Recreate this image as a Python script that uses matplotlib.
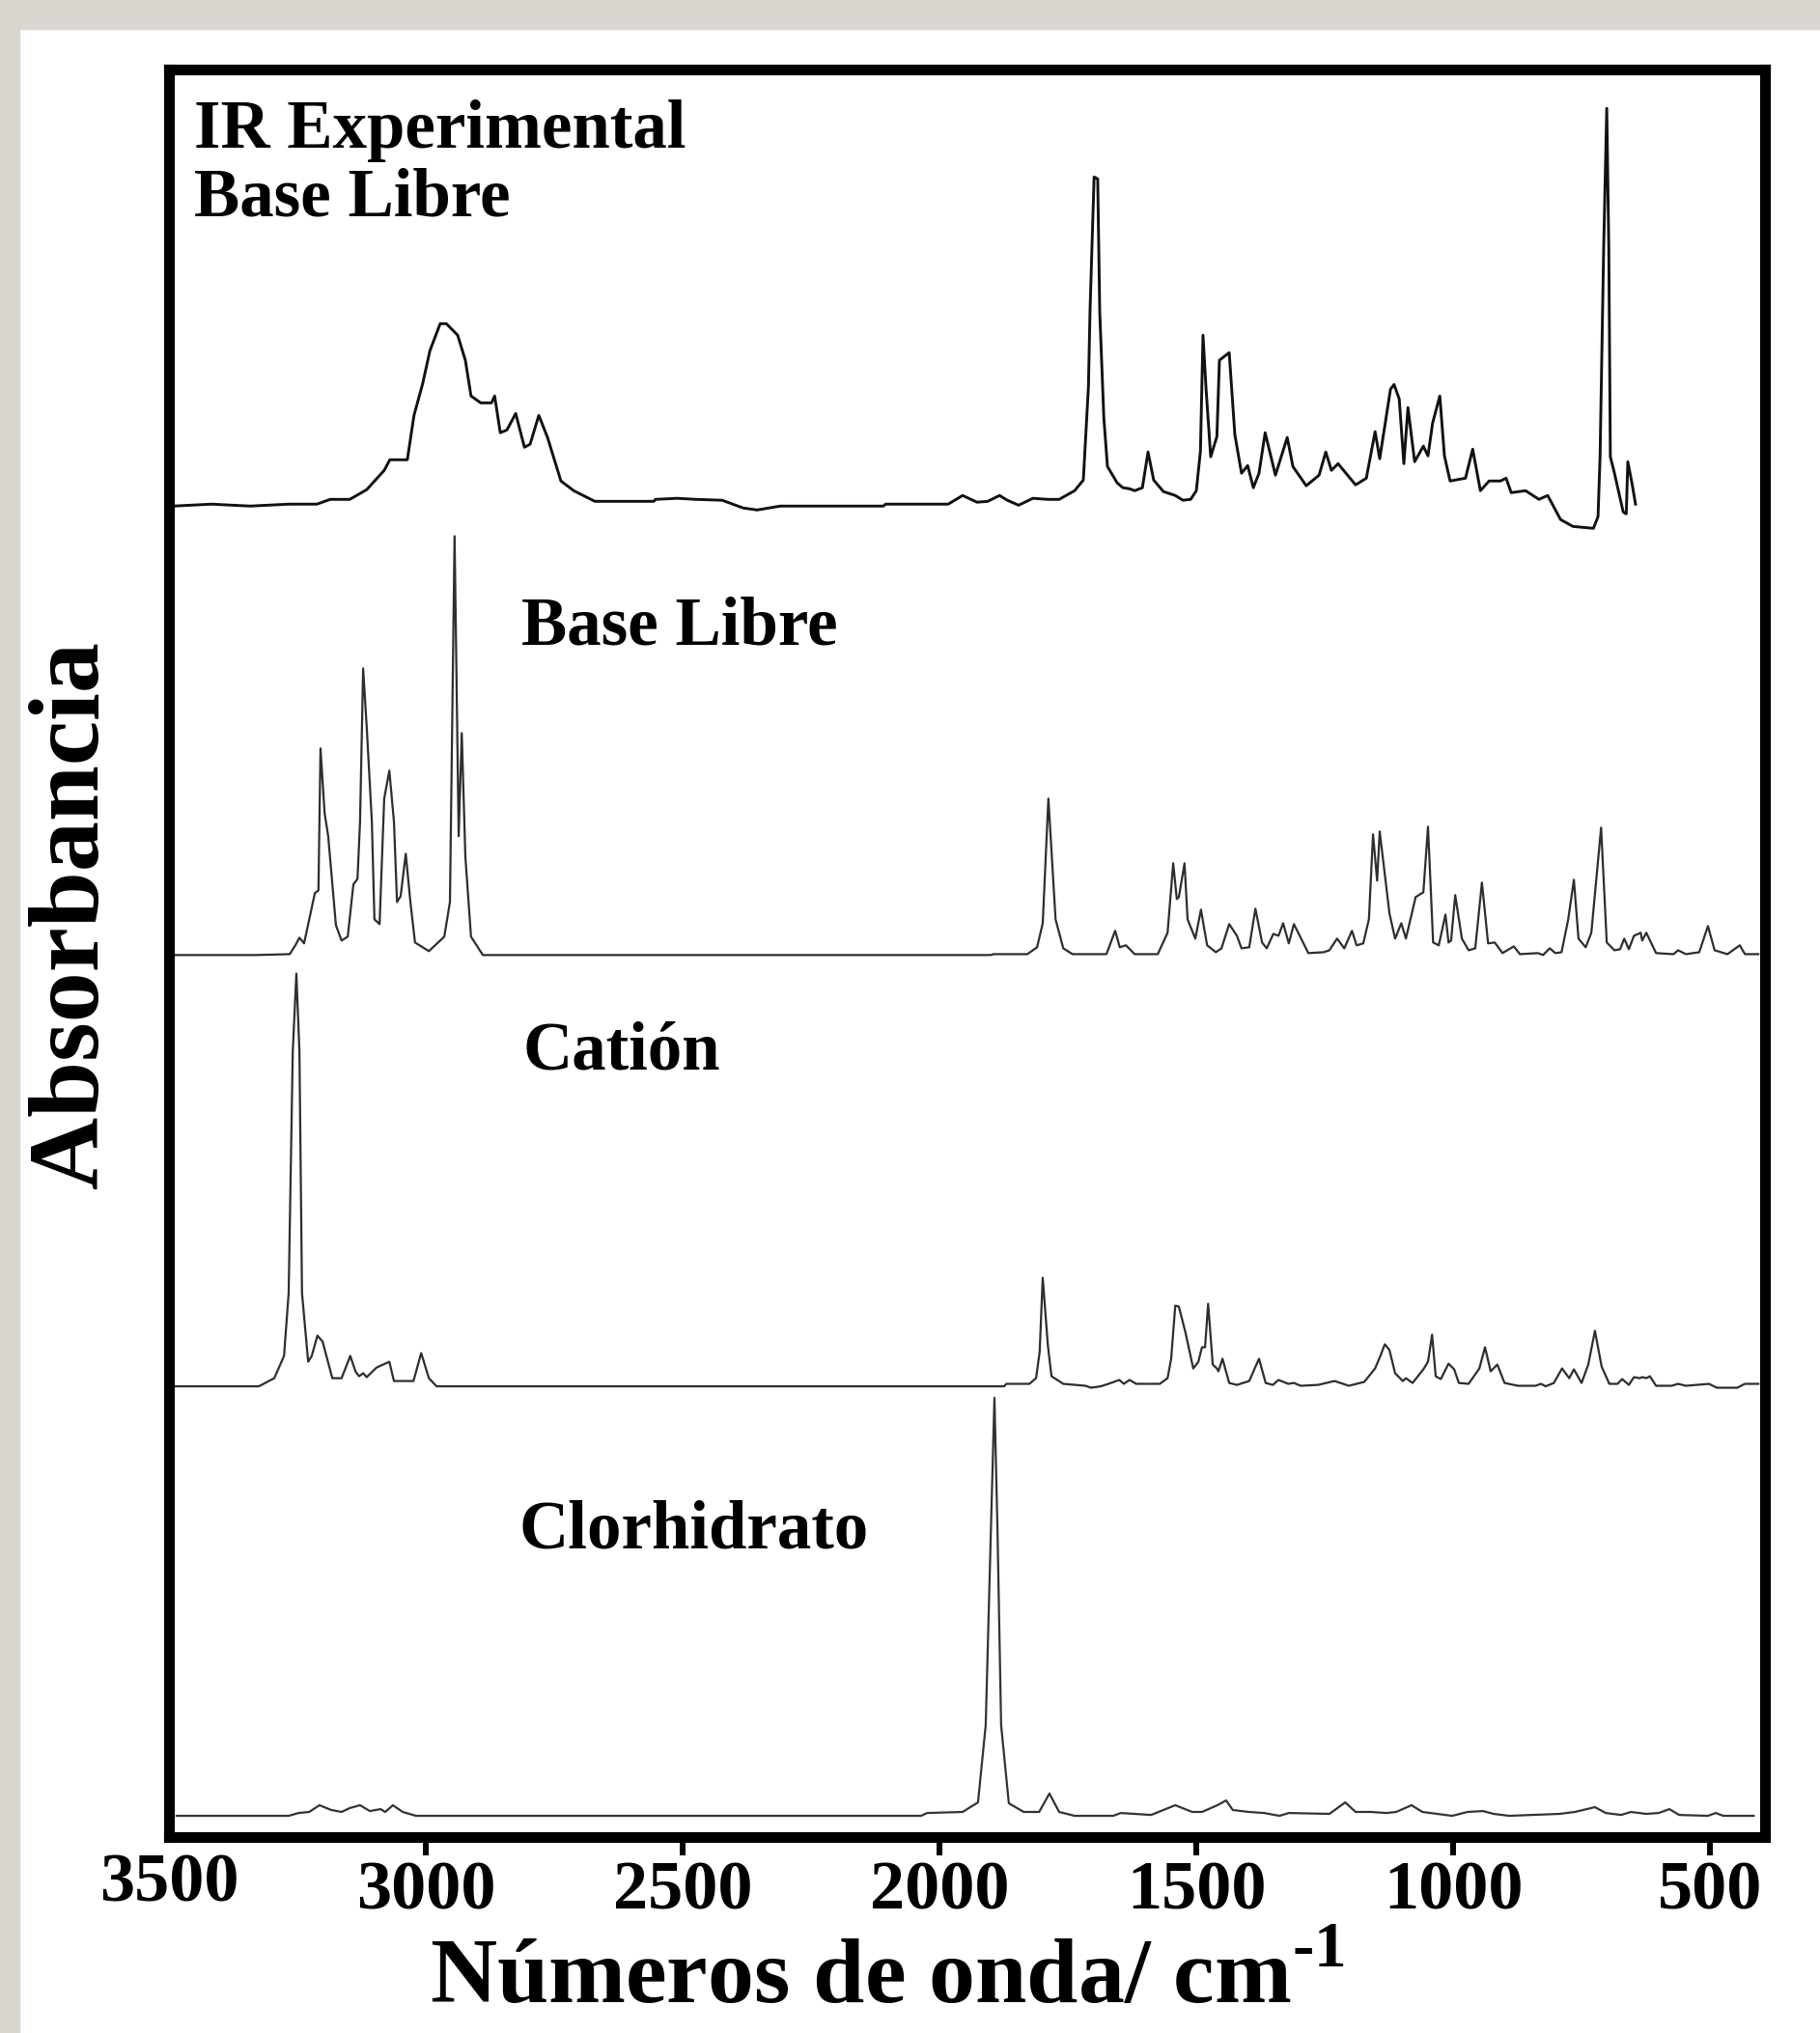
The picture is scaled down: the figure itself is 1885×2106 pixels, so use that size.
import numpy as np
import matplotlib.pyplot as plt
from matplotlib.patches import Rectangle


# IR experimental, base libre (wavenumber cm-1, relative absorbance)
wn_exp = [3492, 3417, 3342, 3267, 3212, 3186, 3148, 3115, 3081, 3070, 3036, 3023,
          3006, 2992, 2972, 2960, 2938, 2923, 2912, 2893, 2872, 2866, 2855, 2842,
          2825, 2808, 2797, 2780, 2763, 2737, 2712, 2671, 2556, 2553, 2511, 2474,
          2423, 2382, 2355, 2310, 2109, 2105, 1983, 1955, 1927, 1906, 1883, 1868,
          1846, 1818, 1789, 1767, 1737, 1720, 1710, 1707, 1699, 1692, 1688, 1680,
          1673, 1654, 1643, 1630, 1620, 1605, 1594, 1583, 1564, 1541, 1526, 1511,
          1500, 1492, 1487, 1481, 1472, 1460, 1455, 1436, 1425, 1412, 1400, 1389,
          1378, 1366, 1346, 1323, 1312, 1286, 1261, 1248, 1237, 1224, 1190, 1169,
          1152, 1143, 1122, 1115, 1105, 1096, 1088, 1075, 1058, 1049, 1040, 1026,
          1017, 1006, 976, 962, 947, 930, 908, 897, 887, 859, 833, 816, 791, 767,
          727, 718, 714, 707, 701, 697, 694, 686, 669, 663, 660, 652, 645]
abs_exp = [0, 0.11, 0, 0.11, 0.11, 0.38, 0.38, 0.93, 2.02, 2.62, 2.62, 5.13,
           6.94, 8.79, 10.32, 10.32, 9.67, 8.25, 6.23, 5.84, 5.84, 6.23, 4.15, 4.31,
           5.24, 3.33, 3.50, 5.13, 3.88, 1.42, 0.87, 0.27, 0.27, 0.38, 0.44, 0.38,
           0.33, -0.11, -0.22, 0, 0, 0.11, 0.11, 0.60, 0.22, 0.27, 0.60, 0.33,
           0.05, 0.44, 0.38, 0.38, 0.87, 1.47, 6.77, 10.98, 18.62, 18.51, 10.98, 4.97,
           2.24, 1.31, 1.04, 0.98, 0.87, 1.04, 3.06, 1.47, 0.82, 0.60, 0.33, 0.38,
           0.87, 3.11, 9.67, 6.61, 2.79, 3.93, 8.25, 8.68, 4.04, 1.86, 2.29, 1.04,
           1.86, 4.15, 1.75, 3.88, 2.24, 1.15, 1.75, 3.06, 2.02, 2.40, 1.20, 1.58,
           4.21, 2.68, 6.61, 6.88, 6.06, 2.40, 5.57, 2.51, 3.39, 2.84, 4.70, 6.23,
           2.84, 1.42, 1.58, 3.22, 0.87, 1.42, 1.42, 1.58, 0.76, 0.87, 0.38, 0.60, -0.76, -1.15,
           -1.26, -0.60, 2.79, 14.58, 22.50, 14.58, 2.79, 1.86, -0.33, -0.44, 2.51, 1.31, 0.11]

# calculado, base libre
wn_base = [3491, 3333, 3265, 3254, 3246, 3237, 3216, 3209, 3205, 3197, 3190, 3175,
           3164, 3152, 3141, 3133, 3128, 3122, 3115, 3105, 3100, 3090, 3081, 3071,
           3062, 3056, 3049, 3039, 3030, 3021, 2994, 2964, 2953, 2944, 2936, 2930,
           2923, 2912, 2889, 2784, 1949, 1900, 1895, 1829, 1810, 1799, 1788, 1774,
           1759, 1741, 1675, 1658, 1649, 1637, 1620, 1575, 1556, 1545, 1538, 1534,
           1523, 1517, 1502, 1491, 1479, 1462, 1451, 1436, 1421, 1412, 1397, 1385,
           1372, 1363, 1350, 1340, 1331, 1320, 1310, 1282, 1252, 1241, 1226, 1212,
           1197, 1188, 1175, 1164, 1156, 1148, 1143, 1124, 1113, 1101, 1092, 1073,
           1058, 1049, 1039, 1028, 1015, 1009, 1004, 996, 983, 970, 957, 944,
           932, 919, 904, 882, 870, 835, 825, 812, 801, 789, 776, 765,
           756, 742, 731, 712, 701, 686, 675, 667, 658, 648, 635, 632,
           624, 605, 571, 562, 547, 521, 504, 491, 466, 442, 432, 406]
abs_base = [0, 0, 0.05, 0.55, 0.98, 0.66, 3.50, 3.66, 11.69, 8.03, 6.72, 1.69,
            0.82, 1.04, 3.99, 4.31, 7.54, 16.22, 12.89, 7.54, 2.02, 1.75, 8.85, 10.43,
            7.54, 3.00, 3.33, 5.73, 3.00, 0.71, 0.22, 1.04, 3.00, 23.70, 6.72, 12.56,
            5.57, 1.04, 0, 0, 0, 0, 0.05, 0.05, 0.44, 1.80, 8.85, 2.02,
            0.38, 0.05, 0.05, 1.37, 0.44, 0.55, 0.05, 0.05, 1.26, 5.19, 3.17, 3.28,
            5.19, 2.02, 0.93, 2.57, 0.55, 0.16, 0.38, 1.75, 1.09, 0.38, 0.44, 2.62,
            0.71, 0.38, 1.20, 1.09, 1.80, 0.66, 1.75, 0.11, 0.16, 0.27, 0.93, 0.38,
            1.37, 0.55, 0.66, 2.02, 6.83, 4.21, 6.99, 2.35, 0.93, 1.80, 0.93, 3.28,
            3.55, 7.26, 0.71, 0.55, 2.29, 0.71, 0.82, 3.39, 0.93, 0.27, 0.38, 4.10,
            0.66, 0.71, 0.11, 0.49, 0.05, 0.11, 0, 0.38, 0.11, 0.16, 2.02, 4.26,
            0.93, 0.44, 1.26, 7.21, 0.71, 0.27, 0.33, 0.93, 0.33, 1.09, 1.26, 0.82,
            1.26, 0.11, 0.05, 0.27, 0.05, 0.16, 1.64, 0.27, 0.05, 0.55, 0.05, 0.05]

# calculado, cation
wn_cat = [3491, 3325, 3295, 3276, 3267, 3259, 3252, 3246, 3241, 3229, 3222, 3211,
          3201, 3182, 3164, 3147, 3137, 3130, 3122, 3115, 3096, 3071, 3062, 3024,
          3009, 2994, 2979, 1949, 1874, 1870, 1825, 1812, 1805, 1799, 1789, 1782,
          1759, 1716, 1705, 1686, 1671, 1650, 1641, 1630, 1617, 1571, 1556, 1549,
          1541, 1534, 1521, 1506, 1496, 1489, 1483, 1477, 1468, 1460, 1457, 1449,
          1436, 1421, 1397, 1378, 1365, 1351, 1340, 1321, 1310, 1297, 1263, 1231,
          1203, 1173, 1152, 1141, 1133, 1124, 1113, 1098, 1092, 1079, 1058, 1049,
          1041, 1034, 1024, 1009, 998, 989, 970, 949, 938, 927, 914, 900,
          874, 840, 829, 820, 804, 788, 774, 765, 750, 737, 724, 711,
          696, 680, 671, 658, 648, 637, 632, 624, 617, 605, 575, 562,
          547, 502, 487, 447, 432, 406]
abs_cat = [0, 0, 0.46, 1.72, 5.27, 18.92, 23.35, 18.92, 5.27, 1.39, 1.72, 2.87,
           2.54, 0.46, 0.46, 1.72, 0.85, 0.57, 0.74, 0.52, 1.06, 1.39, 0.30, 0.30,
           1.88, 0.46, 0, 0, 0, 0.14, 0.14, 0.46, 1.94, 6.14, 2.32, 0.57,
           0.14, 0.03, -0.08, 0, 0.14, 0.36, 0.14, 0.36, 0.14, 0.14, 0.46, 1.56,
           4.56, 4.51, 3.03, 1.01, 1.39, 2.21, 2.21, 4.67, 1.23, 1.01, 0.85, 1.56,
           0.19, 0.08, 0.30, 1.56, 0.19, 0.08, 0.36, 0.14, 0.19, 0.03, 0.08, 0.30,
           0.03, 0.25, 1.01, 1.77, 2.38, 2.05, 0.74, 0.30, 0.46, 0.19, 0.96, 1.39,
           2.92, 0.57, 0.41, 1.28, 0.96, 0.19, 0.14, 1.01, 2.21, 0.85, 1.23, 0.19,
           0.03, 0.03, 0.14, 0, 0.19, 1.01, 0.46, 0.96, 0.19, 1.23, 3.14, 1.12,
           0.14, 0.14, 0.41, 0.08, 0.52, 0.46, 0.52, 0.46, 0.57, 0.03, 0.03, 0.14,
           0.03, 0.14, -0.08, -0.08, 0.14, 0.14]

# calculado, clorhidrato
wn_cl = [3485, 3267, 3248, 3227, 3207, 3184, 3164, 3148, 3128, 3109, 3088, 3079,
         3064, 3045, 3019, 2036, 2024, 1955, 1925, 1910, 1900, 1893, 1887, 1880,
         1865, 1836, 1806, 1786, 1767, 1737, 1662, 1647, 1588, 1541, 1508, 1489,
         1459, 1442, 1429, 1398, 1368, 1338, 1320, 1241, 1210, 1190, 1160, 1130,
         1111, 1081, 1060, 1002, 972, 942, 921, 891, 793, 763, 724, 703,
         673, 654, 624, 600, 579, 560, 504, 489, 474, 415]
abs_cl = [0, 0, 0.16, 0.22, 0.60, 0.33, 0.22, 0.44, 0.60, 0.27, 0.38, 0.22,
          0.60, 0.22, 0, 0, 0.16, 0.22, 0.76, 5.13, 16.06, 23.65, 16.06, 5.13,
          0.71, 0.22, 0.22, 1.26, 0.22, 0, 0, 0.16, 0.05, 0.60, 0.22, 0.22,
          0.60, 0.87, 0.33, 0.22, 0.16, 0, 0.16, 0.11, 0.76, 0.22, 0.22, 0.16,
          0.22, 0.60, 0.22, 0, 0.22, 0.27, 0.11, 0, 0.11, 0.22, 0.49, 0.16,
          0.05, 0.22, 0.11, 0.16, 0.38, 0.05, 0, 0.16, 0, 0]

offsets = [75.3, 49.9, 25.5, 1.2]
xticks = [3000, 2500, 2000, 1500, 1000, 500]


def plotSpectra():
    serif = "Liberation Serif"
    plt.rcParams["mathtext.fontset"] = "custom"
    plt.rcParams["mathtext.rm"] = "Liberation Serif:bold"
    plt.rcParams["mathtext.bf"] = "Liberation Serif:bold"

    W, H = 1885, 2106
    fig = plt.figure(figsize=(W / 100, H / 100), dpi=100)
    fig.patch.set_facecolor("white")

    # grey frame of the scanned page
    grey = "#d9d6d0"
    fig.patches.append(Rectangle((0, 1 - 30 / H), 1, 30 / H, transform=fig.transFigure,
                                 color=grey, zorder=0))
    fig.patches.append(Rectangle((0, 0), 20 / W, 1, transform=fig.transFigure,
                                 color=grey, zorder=0))

    ax = fig.add_axes([175 / W, 1 - 1903 / H, 1653 / W, 1831 / H])

    ax.plot(wn_exp, np.array(abs_exp) + offsets[0], color="#111111", lw=2.1)
    ax.plot(wn_base, np.array(abs_base) + offsets[1], color="#2e2e2e", lw=1.6)
    ax.plot(wn_cat, np.array(abs_cat) + offsets[2], color="#2e2e2e", lw=1.6)
    ax.plot(wn_cl, np.array(abs_cl) + offsets[3], color="#333333", lw=1.6)

    ax.set_xlim(3500, 393)
    ax.set_ylim(0, 100)

    for s in ax.spines.values():
        s.set_linewidth(8)
    ax.set_yticks([])
    ax.set_xticks(xticks)
    ax.set_xticklabels([str(t) for t in xticks])
    ax.set_xticks([3500], minor=True)
    ax.set_xticklabels(["3500"], minor=True)
    ax.tick_params(axis="x", which="major", length=13.5, width=4.3, pad=4,
                   labelsize=52)
    ax.tick_params(axis="x", which="minor", length=0, pad=12, labelsize=52)
    for lab in ax.get_xticklabels(minor=False) + ax.get_xticklabels(minor=True):
        lab.set_fontfamily(serif)
        lab.set_fontweight("bold")

    ax.set_xlabel(r"Números de onda/ cm$^{\text{-1}}$", fontsize=69, fontfamily=serif,
                  fontweight="bold")
    ax.xaxis.label.set_va("baseline")
    ax.xaxis.set_label_coords(0.45, -(2075 - 1903) / 1831)

    ax.set_ylabel("Absorbancia", fontsize=75, fontfamily=serif, fontweight="bold")
    ax.yaxis.label.set_va("center")
    ax.yaxis.set_label_coords(-0.06, 0.522)

    tkw = dict(transform=ax.transAxes, fontsize=51, fontfamily=serif,
               fontweight="bold", va="baseline", ha="left")
    ax.text(0.0157, 0.9558, "IR Experimental", **tkw)
    ax.text(0.0157, 0.9175, "Base Libre", **tkw)
    ax.text(0.2208, 0.6745, "Base Libre", **tkw)
    ax.text(0.222, 0.4347, "Catión", **tkw)
    ax.text(0.219, 0.1638, "Clorhidrato", **tkw)

    fig.savefig("out.png", dpi=100)


if __name__ == "__main__":
    plotSpectra()
